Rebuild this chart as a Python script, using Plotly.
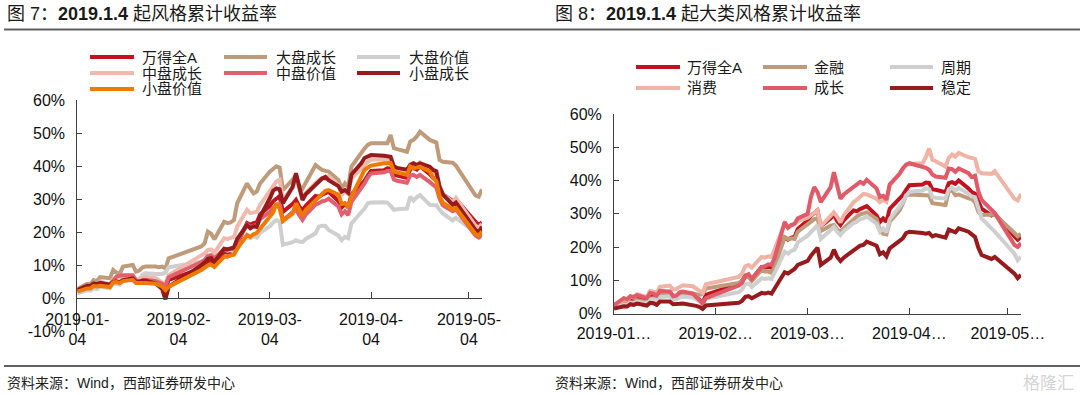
import plotly.graph_objects as go

# ---------------- data ----------------
dates = [
    "2019-01-04", "2019-01-07", "2019-01-08", "2019-01-09", "2019-01-10", "2019-01-11",
    "2019-01-14", "2019-01-15", "2019-01-16", "2019-01-17", "2019-01-18",
    "2019-01-21", "2019-01-22", "2019-01-23", "2019-01-24", "2019-01-25",
    "2019-01-28", "2019-01-29", "2019-01-30", "2019-01-31", "2019-02-01",
    "2019-02-11", "2019-02-12", "2019-02-13", "2019-02-14", "2019-02-15",
    "2019-02-18", "2019-02-19", "2019-02-20", "2019-02-21", "2019-02-22",
    "2019-02-25", "2019-02-26", "2019-02-27", "2019-02-28", "2019-03-01",
    "2019-03-04", "2019-03-05", "2019-03-06", "2019-03-07", "2019-03-08",
    "2019-03-11", "2019-03-12", "2019-03-13", "2019-03-14", "2019-03-15",
    "2019-03-18", "2019-03-19", "2019-03-20", "2019-03-21", "2019-03-22",
    "2019-03-25", "2019-03-26", "2019-03-27", "2019-03-28", "2019-03-29",
    "2019-04-01", "2019-04-02", "2019-04-03", "2019-04-04",
    "2019-04-08", "2019-04-09", "2019-04-10", "2019-04-11", "2019-04-12",
    "2019-04-15", "2019-04-16", "2019-04-17", "2019-04-18", "2019-04-19",
    "2019-04-22", "2019-04-23", "2019-04-24", "2019-04-25", "2019-04-26",
    "2019-04-29", "2019-04-30", "2019-05-06", "2019-05-07", "2019-05-08",
]

# 万得全A (both charts), cumulative return in %
wind_a = [
    2.4, 3.5, 3.4, 4.2, 4.0, 4.8,
    4.0, 5.5, 5.4, 4.8, 6.3,
    6.5, 5.2, 5.3, 5.8, 6.0,
    5.6, 4.9, 4.2, 3.0, 5.6,
    9.0, 9.8, 11.4, 11.6, 10.4,
    14.0, 13.8, 14.0, 13.8, 16.6,
    22.8, 22.2, 22.8, 23.0, 25.4,
    28.0, 29.4, 30.2, 31.0, 26.2,
    28.6, 29.8, 27.8, 26.6, 28.0,
    31.0, 30.8, 31.4, 31.8, 32.3,
    29.5, 27.5, 28.6, 27.6, 31.5,
    34.8, 35.6, 37.2, 38.6,
    38.8, 39.4, 39.3, 37.3, 37.2,
    36.5, 39.2, 39.5, 39.0, 40.0,
    37.6, 36.5, 36.0, 33.5, 31.5,
    29.5, 30.0, 23.2, 22.2, 23.0,
]

# ----- Figure 7 styles -----
large_growth = [
    2.8, 4.4, 4.2, 5.5, 5.2, 6.4,
    6.1, 8.6, 7.8, 7.4, 9.6,
    10.1, 8.1, 8.4, 9.4, 9.6,
    9.6, 9.4, 9.6, 9.1, 12.1,
    15.7, 16.6, 20.2, 19.6, 17.9,
    23.2, 22.8, 23.0, 23.7, 28.8,
    34.8, 33.2, 31.8, 32.4, 34.8,
    38.4, 39.2, 40.0, 39.6, 32.8,
    36.0, 37.2, 34.0, 33.2, 35.0,
    40.4, 39.6, 38.9, 38.6, 38.4,
    35.9, 33.3, 34.8, 33.6, 39.9,
    44.4, 45.4, 46.5, 47.0,
    47.0, 47.0, 49.5, 45.5, 45.2,
    44.4, 47.5, 48.0, 49.0, 50.5,
    48.0, 47.5, 47.2, 41.9, 41.4,
    41.1, 40.2, 31.2, 30.8, 33.0,
]
large_value = [
    1.5, 2.4, 2.3, 3.0, 2.8, 3.5,
    3.0, 4.5, 4.4, 4.1, 5.4,
    6.0, 5.4, 5.8, 7.2, 7.6,
    7.4, 7.3, 7.4, 7.8, 9.4,
    11.1, 11.6, 13.0, 13.2, 12.2,
    14.8, 14.4, 14.6, 14.2, 15.6,
    18.6, 18.2, 18.8, 18.4, 19.8,
    21.8, 23.0, 23.7, 23.2, 16.2,
    17.0, 17.6, 17.2, 17.0, 18.0,
    19.7, 21.7, 22.0, 21.9, 20.7,
    19.0, 17.6, 18.6, 18.2, 22.7,
    25.8, 27.2, 28.8, 29.0,
    29.1, 29.0, 28.0, 26.8, 27.0,
    27.2, 30.8, 29.6, 30.6, 31.3,
    28.3, 28.4, 28.2, 26.8, 25.7,
    23.6, 24.4, 20.0, 19.6, 20.6,
]
mid_growth = [
    2.4, 3.6, 3.5, 4.4, 4.2, 5.0,
    4.2, 5.8, 5.7, 5.1, 6.6,
    6.8, 5.6, 5.7, 6.3, 6.5,
    6.1, 5.4, 4.8, 4.5, 7.0,
    13.0, 13.6, 14.6, 14.8, 13.8,
    18.2, 18.0, 18.4, 18.6, 21.7,
    26.8, 25.8, 25.9, 26.2, 28.3,
    32.8, 34.2, 35.4, 35.9, 30.0,
    33.5, 36.8, 33.2, 30.5, 32.0,
    35.0, 35.8, 36.4, 36.2, 37.0,
    34.2, 31.4, 32.4, 31.6, 36.4,
    39.2, 40.4, 41.4, 42.0,
    42.0, 42.2, 41.8, 38.8, 38.4,
    38.0, 40.6, 40.8, 40.2, 41.2,
    39.0, 38.0, 37.6, 33.6, 31.6,
    29.2, 30.4, 22.0, 21.4, 22.6,
]
mid_value = [
    2.3, 3.4, 3.3, 4.0, 3.8, 4.6,
    4.0, 5.4, 6.6, 6.8, 7.0,
    7.0, 5.4, 5.2, 5.4, 5.6,
    5.2, 4.8, 4.4, 3.6, 6.4,
    11.0, 11.6, 12.8, 13.0, 12.0,
    15.0, 14.8, 15.0, 14.8, 17.2,
    22.4, 21.6, 22.0, 22.2, 24.0,
    26.2, 27.4, 28.0, 28.6, 23.6,
    26.0, 27.0, 25.2, 23.8, 25.4,
    28.4, 28.8, 29.4, 29.6, 30.2,
    27.8, 25.4, 26.4, 25.2, 29.2,
    33.2, 34.8, 36.6, 37.8,
    38.2, 38.6, 38.6, 36.0, 35.6,
    35.0, 37.2, 37.4, 36.8, 37.4,
    35.2, 34.2, 33.6, 30.2, 28.2,
    26.4, 27.0, 19.0, 18.4, 19.2,
]
small_growth = [
    2.5, 3.8, 3.7, 4.5, 4.3, 4.7,
    4.1, 5.0, 5.1, 4.8, 5.5,
    6.0, 5.0, 5.0, 5.4, 5.3,
    4.5, 3.6, 2.8, -0.3, 3.5,
    10.0, 10.8, 12.0, 12.2, 11.0,
    15.0, 14.8, 15.2, 15.4, 18.0,
    22.2, 21.2, 21.8, 21.6, 24.7,
    30.3, 32.6, 33.3, 33.0, 28.8,
    33.8, 37.9, 33.5, 29.8, 31.5,
    34.3, 35.6, 36.3, 36.8, 35.8,
    34.0, 32.3, 32.8, 32.0, 37.5,
    40.9, 42.5, 43.0, 43.4,
    43.2, 43.0, 42.9, 40.0, 39.5,
    39.0, 40.4, 40.9, 40.4, 40.9,
    39.9, 38.9, 38.5, 33.8, 31.5,
    28.3, 29.0, 20.7, 20.0, 21.7,
]
small_value = [
    2.0, 3.0, 3.0, 3.7, 3.6, 3.8,
    3.4, 4.8, 4.9, 4.6, 5.2,
    5.6, 4.6, 4.5, 4.7, 4.6,
    4.4, 4.0, 3.6, 2.5, 3.5,
    8.6, 9.2, 10.0, 10.2, 9.5,
    12.6, 12.6, 13.0, 13.2, 15.0,
    19.2, 18.6, 19.4, 19.8, 21.0,
    24.4, 26.0, 28.8, 27.2, 23.4,
    25.7, 28.8, 26.6, 25.0, 26.8,
    29.8, 30.8, 31.6, 32.6, 32.8,
    31.4, 28.6, 28.8, 27.6, 30.8,
    36.9, 38.9, 39.6, 40.2,
    40.9, 41.0, 41.0, 38.4, 38.2,
    37.4, 39.9, 39.4, 39.6, 39.9,
    38.4, 36.5, 35.5, 31.0, 29.0,
    27.0, 27.4, 19.5, 19.0, 20.2,
]

# ----- Figure 8 broad styles -----
finance = [
    2.2, 3.0, 2.9, 3.4, 3.3, 4.0,
    3.4, 4.5, 4.6, 4.2, 5.6,
    5.9, 5.0, 5.1, 5.6, 6.0,
    6.0, 5.8, 5.6, 5.9, 7.5,
    9.2, 9.8, 11.2, 11.0, 9.8,
    13.2, 12.6, 12.6, 12.2, 14.2,
    23.0, 22.4, 22.6, 22.4, 24.6,
    26.8, 27.6, 28.4, 28.6, 24.8,
    26.4, 26.6, 25.2, 24.6, 25.6,
    28.6, 29.2, 29.8, 30.2, 30.4,
    28.4, 25.0, 24.0, 23.8, 27.6,
    31.0, 33.0, 35.6, 35.8,
    35.6, 35.4, 35.5, 33.2, 33.0,
    32.6, 36.8, 37.0, 35.6, 35.8,
    34.6, 34.4, 33.4, 30.6, 29.6,
    29.6, 29.8, 24.2, 23.2, 24.0,
]
cyclical = [
    1.8, 2.6, 2.5, 3.2, 3.0, 3.6,
    3.0, 4.2, 4.3, 3.8, 5.0,
    5.2, 4.2, 4.3, 4.8, 5.1,
    4.8, 4.2, 3.7, 3.2, 4.4,
    6.4, 7.2, 8.8, 9.0, 8.0,
    10.6, 10.4, 10.6, 10.4, 12.4,
    18.6, 18.0, 18.8, 19.2, 21.4,
    23.4, 24.6, 25.6, 26.6, 22.4,
    25.0, 26.0, 24.6, 23.6, 24.8,
    27.2, 27.6, 28.4, 28.6, 29.2,
    27.0, 24.6, 25.6, 24.4, 28.4,
    32.0, 33.4, 35.4, 36.6,
    37.0, 37.6, 37.4, 35.0, 34.8,
    34.6, 37.4, 37.8, 37.0, 37.8,
    36.0, 35.2, 35.0, 31.4, 28.6,
    25.6, 24.6, 18.0, 16.0, 17.0,
]
consumer = [
    2.6, 4.2, 4.0, 5.0, 4.8, 5.8,
    5.0, 6.8, 6.6, 6.2, 8.0,
    8.4, 7.2, 7.4, 8.0, 8.5,
    8.2, 7.6, 7.0, 6.2, 8.8,
    11.0, 12.0, 14.2, 14.6, 13.8,
    17.0, 16.8, 17.2, 17.0, 19.5,
    27.0, 25.8, 26.5, 26.8, 27.8,
    28.8, 29.6, 30.5, 31.0, 26.2,
    29.2, 30.4, 29.0, 27.4, 29.5,
    33.5, 34.2, 35.2, 36.0, 35.8,
    34.5, 33.5, 34.2, 33.6, 38.5,
    42.0, 43.6, 44.6, 45.0,
    45.2, 47.0, 49.6, 46.2, 45.8,
    44.2, 46.8, 47.8, 47.2, 48.3,
    47.0, 46.8, 46.5, 42.8, 42.2,
    42.0, 42.8, 34.5, 34.0, 36.0,
]
growth = [
    2.5, 4.6, 4.3, 5.2, 5.0, 5.5,
    4.6, 6.2, 6.0, 5.4, 6.8,
    6.6, 5.2, 5.4, 6.4, 6.6,
    6.0, 5.0, 4.0, 3.0, 4.6,
    8.4, 9.2, 11.2, 11.8, 10.4,
    14.0, 14.2, 14.8, 14.6, 17.0,
    27.5, 25.8, 26.6, 27.0, 28.6,
    30.0, 35.0, 38.0, 36.5, 33.5,
    38.0, 42.5, 38.5, 34.5, 35.8,
    38.2, 39.0, 39.6, 39.0, 40.2,
    37.6, 35.0, 35.4, 34.2, 38.8,
    42.0, 43.6, 44.8, 45.2,
    44.2, 43.8, 43.2, 41.8, 41.2,
    40.8, 43.6, 43.4, 42.6, 43.6,
    42.2, 41.0, 41.4, 36.8, 34.2,
    31.0, 30.2, 20.6, 20.0, 21.2,
]
stable = [
    1.5, 2.2, 2.1, 2.8, 2.6, 3.0,
    2.4, 3.2, 3.1, 2.6, 3.6,
    3.6, 2.8, 2.7, 2.9, 3.0,
    2.6, 2.3, 2.0, 1.4, 2.4,
    3.2, 3.8, 5.0, 5.2, 4.6,
    6.2, 6.0, 6.3, 6.0, 7.6,
    12.4, 12.0, 12.8, 13.4, 14.6,
    15.8, 17.4, 18.6, 19.8, 14.6,
    16.8, 19.2, 17.0, 15.8, 16.8,
    19.0, 19.8, 20.4, 20.6, 21.6,
    20.4, 17.8, 18.4, 17.2, 19.6,
    21.6, 22.6, 24.2, 24.6,
    24.2, 24.0, 24.2, 23.2, 23.6,
    22.8, 25.2, 24.8, 24.4, 25.6,
    24.6, 23.8, 23.0, 19.8, 17.6,
    16.4, 17.0, 12.0, 10.6, 11.6,
]

left_names = ["万得全A", "大盘成长", "大盘价值", "中盘成长", "中盘价值", "小盘成长", "小盘价值"]
left_series = [wind_a, large_growth, large_value, mid_growth, mid_value, small_growth, small_value]
left_colors = ["#C0131F", "#BF9B7A", "#CFCFCF", "#F0B9AE", "#E0606E", "#971A1D", "#F07A00"]

right_names = ["万得全A", "金融", "周期", "消费", "成长", "稳定"]
right_series = [wind_a, finance, cyclical, consumer, growth, stable]
right_colors = ["#C0131F", "#BF9B7A", "#CFCFCF", "#F0B3A5", "#E05A68", "#971A1D"]

x_tick_vals = ["2019-01-04", "2019-02-04", "2019-03-04", "2019-04-04", "2019-05-04"]
left_x_text = ["2019-01-<br>04", "2019-02-<br>04", "2019-03-<br>04", "2019-04-<br>04", "2019-05-<br>04"]
right_x_text = ["2019-01…", "2019-02…", "2019-03…", "2019-04…", "2019-05…"]
left_y_vals = [-10, 0, 10, 20, 30, 40, 50, 60]
left_y_text = ["-10%", "0%", "10%", "20%", "30%", "40%", "50%", "60%"]
right_y_vals = [0, 10, 20, 30, 40, 50, 60]
right_y_text = ["0%", "10%", "20%", "30%", "40%", "50%", "60%"]

title_left = "图 7：<b>2019.1.4</b> 起风格累计收益率"
title_right = "图 8：<b>2019.1.4</b> 起大类风格累计收益率"
source_text = "资料来源：Wind，西部证券研发中心"

for s in left_series + right_series:
    assert len(s) == len(dates)

# ---------------- layout helpers ----------------
W, H = 1080, 395
FONT = "Liberation Sans, Arial, Noto Sans CJK SC, sans-serif"
CJK = "Noto Sans CJK SC, Liberation Sans, sans-serif"


def px(x):
    return x / W


def py(y):
    return 1 - y / H


fig = go.Figure()

for name, vals, col in zip(left_names, left_series, left_colors):
    fig.add_trace(go.Scatter(x=dates, y=vals, name=name, mode="lines",
                             line=dict(color=col, width=4),
                             xaxis="x", yaxis="y", showlegend=False))
for name, vals, col in zip(right_names, right_series, right_colors):
    fig.add_trace(go.Scatter(x=dates, y=vals, name=name, mode="lines",
                             line=dict(color=col, width=4),
                             xaxis="x2", yaxis="y2", showlegend=False))

axis_common = dict(showgrid=False, zeroline=False, showline=True, automargin=False,
                   linecolor="#404040", linewidth=1, ticks="inside",
                   tickcolor="#404040", tickwidth=1,
                   tickfont=dict(family=FONT, size=16, color="#111"))

# left chart geometry
L_X0, L_X1 = 77.3, 482.0
L_YTOP, L_YBOT, L_YZERO = 100.3, 331.3, 298.3
# right chart geometry
R_X0, R_X1 = 614.0, 1021.0
R_YTOP, R_YBOT = 114.0, 313.5

fig.update_layout(
    template="plotly_white",
    width=W, height=H,
    margin=dict(l=0, r=0, t=0, b=0, pad=0, autoexpand=False),
    paper_bgcolor="white", plot_bgcolor="white",
    showlegend=False,
    xaxis=dict(axis_common, domain=[px(L_X0), px(L_X1)], type="date",
               range=[dates[0], dates[-1]], anchor="free", position=py(L_YZERO),
               tickmode="array", tickvals=x_tick_vals, ticktext=left_x_text,
               ticklen=6, ticklabelstandoff=6),
    yaxis=dict(axis_common, domain=[py(L_YBOT), py(L_YTOP)], range=[-10, 60],
               anchor="x", tickmode="array", tickvals=left_y_vals, ticktext=left_y_text,
               ticklen=5, ticklabelstandoff=8),
    xaxis2=dict(axis_common, domain=[px(R_X0), px(R_X1)], type="date",
                range=[dates[0], dates[-1]], anchor="y2",
                tickmode="array", tickvals=x_tick_vals, ticktext=right_x_text,
                ticklen=6, ticklabelstandoff=5),
    yaxis2=dict(axis_common, domain=[py(R_YBOT), py(R_YTOP)], range=[0, 60],
                anchor="x2", tickmode="array", tickvals=right_y_vals, ticktext=right_y_text,
                ticklen=5, ticklabelstandoff=8),
)

shapes = []
annotations = []

# rules under the titles and above the sources
for yy in (29.5, 366):
    shapes.append(dict(type="line", xref="paper", yref="paper", layer="above",
                       x0=px(4), x1=1.0, y0=py(yy), y1=py(yy),
                       line=dict(color="#606060", width=2)))

# titles
annotations.append(dict(text=title_left, x=px(5), y=py(14), xref="paper", yref="paper",
                        xanchor="left", yanchor="middle", showarrow=False,
                        font=dict(family=FONT, size=18, color="#1a1a1a")))
annotations.append(dict(text=title_right, x=px(553), y=py(14), xref="paper", yref="paper",
                        xanchor="left", yanchor="middle", showarrow=False,
                        font=dict(family=FONT, size=18, color="#1a1a1a")))

# sources
for sx in (5, 553):
    annotations.append(dict(text=source_text, x=px(sx), y=py(383), xref="paper", yref="paper",
                            xanchor="left", yanchor="middle", showarrow=False,
                            font=dict(family=FONT, size=14, color="#222")))

# watermark
annotations.append(dict(text="格隆汇", x=px(1076), y=py(381), xref="paper", yref="paper",
                        xanchor="right", yanchor="middle", showarrow=False,
                        font=dict(family=CJK, size=17, color="#d4d4d4")))

# manual legends
left_cols = [(90, 134, 140), (224, 267, 274), (357, 400, 407)]
left_rows = [57, 73, 89]
right_cols = [(636, 680, 685), (763, 807, 812), (890, 933, 939)]
right_rows = [67, 88]


def add_legend(names, colors, cols, rows):
    for i, (nm, col) in enumerate(zip(names, colors)):
        r, c = divmod(i, 3)
        x0, x1, tx = cols[c]
        yy = rows[r]
        shapes.append(dict(type="line", xref="paper", yref="paper",
                           x0=px(x0), x1=px(x1), y0=py(yy), y1=py(yy),
                           line=dict(color=col, width=4)))
        annotations.append(dict(text=nm, x=px(tx), y=py(yy), xref="paper", yref="paper",
                                xanchor="left", yanchor="middle", showarrow=False,
                                font=dict(family=FONT, size=15, color="#1a1a1a")))


add_legend(left_names, left_colors, left_cols, left_rows)
add_legend(right_names, right_colors, right_cols, right_rows)

fig.update_layout(shapes=shapes, annotations=annotations)

fig.write_html(
    "out.html",
    config={"displayModeBar": False, "responsive": False},
    post_script="document.body.style.margin='0';document.body.style.overflow='hidden';",
)
